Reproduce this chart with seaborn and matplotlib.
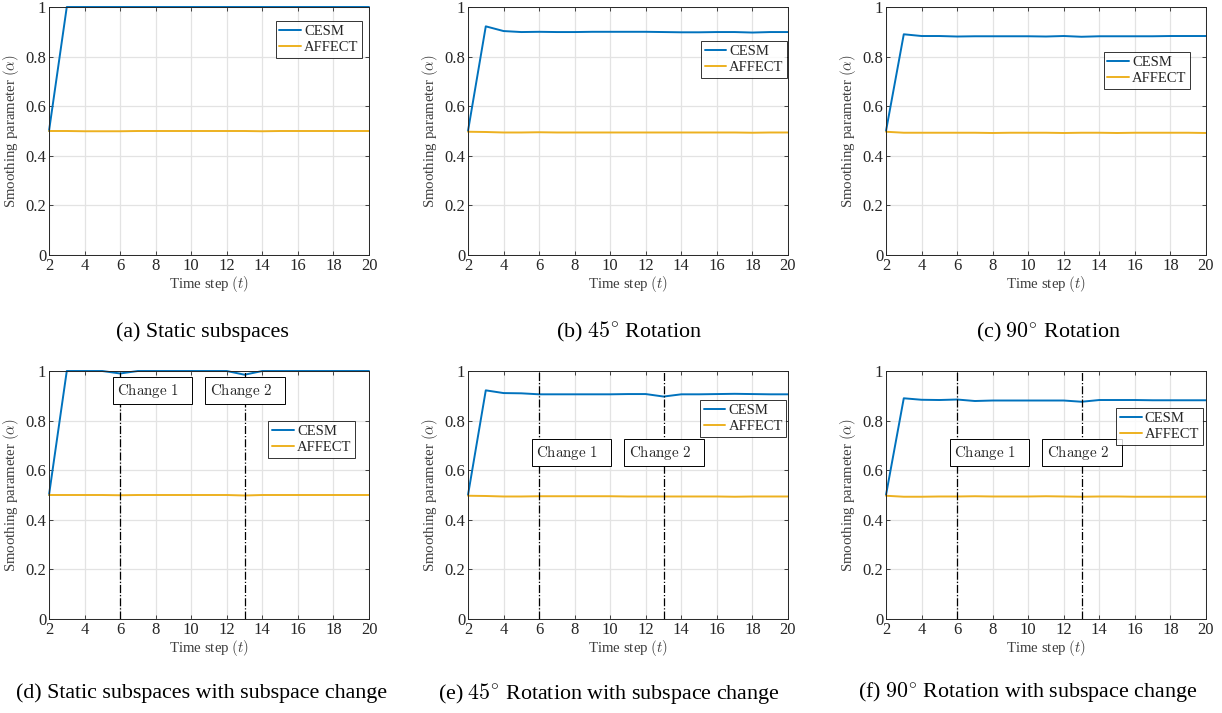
import numpy as np
import pandas as pd
import seaborn as sns
import matplotlib.pyplot as plt

t = list(range(2, 21))

# (a) static subspaces
cesm_a = [0.5] + [1.0] * 18
affect_a = [0.5, 0.5, 0.499, 0.499, 0.499, 0.5, 0.5, 0.5, 0.5, 0.5, 0.5, 0.5, 0.499, 0.5, 0.5, 0.5, 0.5, 0.5, 0.5]
# (b) 45 deg rotation
cesm_b = [0.5, 0.922, 0.903, 0.899, 0.9, 0.899, 0.899, 0.9, 0.9, 0.9, 0.9, 0.899, 0.898,
          0.898, 0.899, 0.899, 0.897, 0.899, 0.899]
affect_b = [0.497, 0.496, 0.494, 0.494, 0.495, 0.494, 0.494, 0.494, 0.494, 0.494, 0.494, 0.494,
            0.494, 0.494, 0.494, 0.494, 0.493, 0.494, 0.494]
# (c) 90 deg rotation
cesm_c = [0.5, 0.89, 0.883, 0.883, 0.881, 0.882, 0.882, 0.882, 0.882, 0.881, 0.883, 0.88,
          0.882, 0.882, 0.882, 0.882, 0.883, 0.883, 0.883]
affect_c = [0.497, 0.493, 0.493, 0.493, 0.493, 0.493, 0.492, 0.493, 0.493, 0.493, 0.492, 0.493,
            0.493, 0.492, 0.493, 0.493, 0.493, 0.493, 0.492]
# (d) static with subspace change
cesm_d = [0.5, 1.0, 1.0, 1.0, 0.99, 1.0, 1.0, 1.0, 1.0, 1.0, 1.0, 0.985, 1.0, 1.0, 1.0, 1.0, 1.0, 1.0, 1.0]
affect_d = [0.5, 0.5, 0.5, 0.5, 0.499, 0.5, 0.5, 0.5, 0.5, 0.5, 0.5, 0.498, 0.5, 0.5, 0.5, 0.5, 0.5, 0.5, 0.5]
# (e) 45 deg with subspace change
cesm_e = [0.5, 0.922, 0.911, 0.91, 0.906, 0.906, 0.906, 0.906, 0.906, 0.907, 0.907, 0.897,
          0.906, 0.906, 0.907, 0.908, 0.907, 0.906, 0.906]
affect_e = [0.497, 0.496, 0.494, 0.494, 0.495, 0.495, 0.495, 0.495, 0.495, 0.494, 0.494, 0.494,
            0.494, 0.494, 0.494, 0.493, 0.494, 0.494, 0.494]
# (f) 90 deg with subspace change
cesm_f = [0.5, 0.89, 0.884, 0.883, 0.885, 0.879, 0.881, 0.881, 0.881, 0.881, 0.881, 0.876,
          0.883, 0.883, 0.883, 0.882, 0.882, 0.882, 0.882]
affect_f = [0.497, 0.493, 0.493, 0.494, 0.494, 0.495, 0.494, 0.494, 0.494, 0.495, 0.494, 0.493,
            0.494, 0.494, 0.493, 0.493, 0.493, 0.493, 0.493]

change_steps = [6, 13]
captions = ["(a) Static subspaces", r"(b) $45^{\circ}$ Rotation", r"(c) $90^{\circ}$ Rotation",
            "(d) Static subspaces with subspace change",
            r"(e) $45^{\circ}$ Rotation with subspace change",
            r"(f) $90^{\circ}$ Rotation with subspace change"]

sns.set_theme(style="whitegrid")
plt.rcParams["font.family"] = ["Liberation Serif", "DejaVu Serif"]
plt.rcParams["mathtext.fontset"] = "cm"

fig = plt.figure(figsize=(12.22, 7.13), dpi=100)

W, H = 1222, 713
col_left = [49, 468, 886]
row_top = [7, 371]
ax_w, ax_h = 320, 248

panels = [
    (cesm_a, affect_a, (0.978, 0.944), False),
    (cesm_b, affect_b, (0.998, 0.863), False),
    (cesm_c, affect_c, (0.95, 0.819), False),
    (cesm_d, affect_d, (0.956, 0.798), True),
    (cesm_e, affect_e, (0.995, 0.883), True),
    (cesm_f, affect_f, (0.99, 0.85), True),
]
cap_x = [202, 629, 1048, 202, 609, 1028]
cap_y = [332, 332, 332, 693, 693, 693]
palette = {"CESM": "#0072BD", "AFFECT": "#EDB120"}
gray = "#262626"

for i, (cesm, affect, leg_pos, changes) in enumerate(panels):
    r, c = divmod(i, 3)
    rect = [col_left[c] / W, 1 - (row_top[r] + ax_h) / H, ax_w / W, ax_h / H]
    ax = fig.add_axes(rect)
    df = pd.DataFrame({"t": t * 2, "alpha": cesm + affect,
                       "method": ["CESM"] * len(t) + ["AFFECT"] * len(t)})
    sns.lineplot(data=df, x="t", y="alpha", hue="method", palette=palette,
                 linewidth=1.4, ax=ax)
    for ln in ax.lines:
        ln.set_clip_on(False)
    ax.set_xlim(2, 20)
    ax.set_ylim(0, 1)
    ax.set_xticks(range(2, 21, 2))
    ax.set_yticks([0, 0.2, 0.4, 0.6, 0.8, 1])
    ax.set_yticklabels(["0", "0.2", "0.4", "0.6", "0.8", "1"])
    ax.grid(True, color="#e3e3e3", linewidth=0.9)
    for s in ax.spines.values():
        s.set_color(gray)
        s.set_linewidth(0.7)
    ax.tick_params(direction="in", length=3, width=0.6, colors=gray, labelsize=12,
                   top=True, right=True, bottom=True, left=True, pad=2)
    ax.set_xlabel(r"Time step $(t)$", fontsize=10.7, color="#404040", labelpad=0)
    ax.set_ylabel(r"Smoothing parameter $(\alpha)$", fontsize=10.7, color="#404040", labelpad=3)

    if changes:
        ty = 0.92 if i == 3 else 0.67
        for k, cs in enumerate(change_steps):
            ax.axvline(cs, color="black", linestyle="-.", linewidth=0.9)
            ax.text(5.85 if k == 0 else 11.05, ty, r"$\mathrm{Change\ %d}$" % (k + 1) + "   ",
                    fontsize=10.8, va="center", ha="left",
                    bbox=dict(boxstyle="square,pad=0.3", fc="white", ec="black", lw=0.7))

    leg = ax.legend(loc="upper right", bbox_to_anchor=leg_pos, fontsize=10.5, frameon=True,
                    fancybox=False, borderpad=0.25, handlelength=1.5, handletextpad=0.2,
                    labelspacing=0.22, borderaxespad=0)
    leg.get_frame().set_edgecolor("black")
    leg.get_frame().set_linewidth(0.7)
    leg.set_title(None)

    fig.text(cap_x[i] / W, 1 - cap_y[i] / H, captions[i], ha="center", va="center",
             fontsize=15.8, color="black")

fig.savefig("out.png", dpi=100)
